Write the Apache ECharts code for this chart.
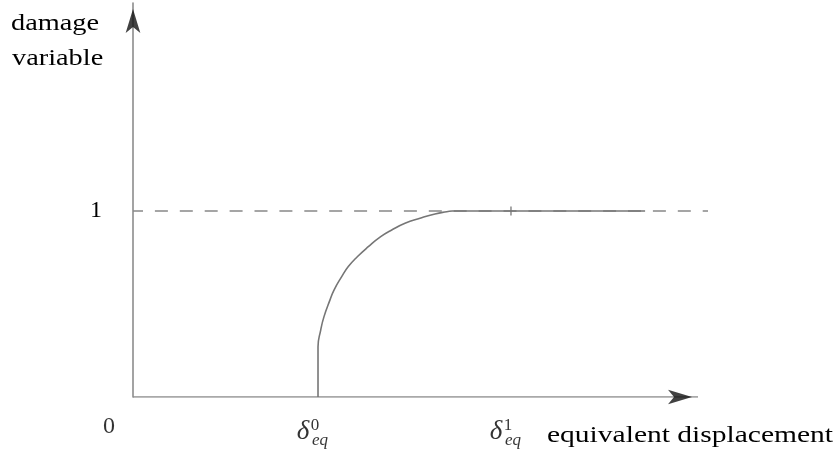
<!DOCTYPE html>
<html>
<head>
<meta charset="utf-8">
<script src="https://cdn.jsdelivr.net/npm/echarts@6/dist/echarts.min.js"></script>
<style>
  html, body { margin: 0; padding: 0; background: #fff; }
  #chart { width: 836px; height: 459px; }
</style>
</head>
<body>
<div id="chart"></div>
<script>
// Damage variable versus equivalent displacement (x in units of the onset displacement)
const xMax = 3.108;          // right end of the full-damage reference line
const xAxisEnd = 3.054;      // tip of the horizontal axis arrow
const yMax = 2.118;
const deltaOnset = 1.0;      // δ_eq^0
const deltaFull = 2.043;     // δ_eq^1
const plateauEnd = 2.768;
const yTickValues = [1];

// Damage growth from δ_eq^0 up to full damage
const curveX = [1.0, 1.0, 1.0, 1.0146, 1.0324, 1.0649, 1.0865, 1.1281, 1.1638, 1.2124, 1.2719, 1.3389, 1.3984, 1.4703, 1.5514, 1.6324, 1.6957, 1.7243];
const curveY = [0, 0.135, 0.269, 0.360, 0.432, 0.522, 0.575, 0.647, 0.701, 0.754, 0.808, 0.862, 0.898, 0.934, 0.961, 0.984, 0.996, 1.0];

const markValues = [deltaOnset, deltaFull];
const markSup = ['0', '1'];
const markSub = ['eq', 'eq'];

const curveData = curveX.map((x, i) => [x, curveY[i]]);
const plateauData = [[curveX[curveX.length - 1], 1], [plateauEnd, 1]];
const serif = '"Liberation Serif", "DejaVu Serif", serif';
const gray = '#767676';
const axisGray = '#8c8c8c';
const ink = '#000';

const chart = echarts.init(document.getElementById('chart'));
chart.setOption({
  animation: false,
  backgroundColor: '#fff',
  grid: { left: 133, right: 836 - 708, top: 3, bottom: 459 - 397, containLabel: false },
  xAxis: {
    type: 'value', min: 0, max: xMax,
    axisLine: { show: false },
    axisTick: { show: false }, axisLabel: { show: false }, splitLine: { show: false }
  },
  yAxis: {
    type: 'value', min: 0, max: yMax,
    axisLine: { show: true, onZero: false, lineStyle: { color: axisGray, width: 1.6 } },
    axisTick: { show: false },
    axisLabel: {
      show: true, customValues: yTickValues, margin: 31,
      color: ink, fontFamily: serif, fontSize: 24
    },
    splitLine: { show: false }
  },
  graphic: [
    {
      type: 'text', x: 11, y: 24, scaleX: 1.18,
      style: { text: 'damage', fill: ink, font: '24px ' + serif, textAlign: 'left', textVerticalAlign: 'middle' }
    },
    {
      type: 'text', x: 12, y: 59, scaleX: 1.18,
      style: { text: 'variable', fill: ink, font: '24px ' + serif, textAlign: 'left', textVerticalAlign: 'middle' }
    },
    {
      type: 'text', x: 547, y: 436, scaleX: 1.23,
      style: { text: 'equivalent displacement', fill: ink, font: '24px ' + serif, textAlign: 'left', textVerticalAlign: 'middle' }
    }
  ],
  series: [
    {
      name: 'displacement axis', type: 'line', silent: true, symbol: 'none',
      data: [[0, 0], [xAxisEnd, 0]],
      lineStyle: { color: axisGray, width: 1.6 }, z: 1
    },
    {
      name: 'full damage', type: 'line', silent: true, symbol: 'none',
      data: [[0, 1], [xMax, 1]],
      lineStyle: { color: '#888', width: 1.6, type: [13, 11.9], dashOffset: 3 }, z: 1
    },
    {
      name: 'damage', type: 'line', silent: true, symbol: 'none', smooth: 0.5,
      data: curveData,
      lineStyle: { color: gray, width: 1.6 }, z: 2
    },
    {
      name: 'plateau', type: 'line', silent: true, symbol: 'none',
      data: plateauData,
      lineStyle: { color: gray, width: 1.6 }, z: 2
    },
    {
      name: 'plateau tick', type: 'scatter', clip: false, silent: true,
      symbol: 'rect', symbolSize: [1.6, 9],
      data: [[deltaFull, 1]],
      itemStyle: { color: gray }, z: 3
    },
    {
      name: 'arrows', type: 'scatter', clip: false, silent: true,
      symbol: 'arrow',
      data: [
        { value: [xAxisEnd, 0], symbolRotate: -90, symbolSize: [11, 24], symbolOffset: [-6, 0] },
        { value: [0, yMax], symbolRotate: 0, symbolSize: [11, 24], symbolOffset: [0, 6] }
      ],
      itemStyle: { color: '#111' }, z: 4
    },
    {
      name: 'origin', type: 'scatter', clip: false, silent: true, symbolSize: 0,
      data: [[0, 0]],
      label: { show: true, formatter: '0', offset: [-24, 30], color: ink, fontFamily: serif, fontSize: 24 }
    },
    {
      name: 'delta', type: 'scatter', clip: false, silent: true, symbolSize: 0,
      data: markValues.map(v => [v, 0]),
      label: { show: true, formatter: 'δ', offset: [-15, 35], color: ink, fontFamily: serif, fontStyle: 'italic', fontSize: 27 }
    },
    {
      name: 'sup', type: 'scatter', clip: false, silent: true, symbolSize: 0,
      data: markValues.map(v => [v, 0]),
      label: { show: true, formatter: p => markSup[p.dataIndex], offset: [-3, 29], color: ink, fontFamily: serif, fontSize: 17 }
    },
    {
      name: 'sub', type: 'scatter', clip: false, silent: true, symbolSize: 0,
      data: markValues.map(v => [v, 0]),
      label: { show: true, formatter: p => markSub[p.dataIndex], offset: [2, 44], color: ink, fontFamily: serif, fontStyle: 'italic', fontSize: 17 }
    }
  ]
});
</script>
</body>
</html>
